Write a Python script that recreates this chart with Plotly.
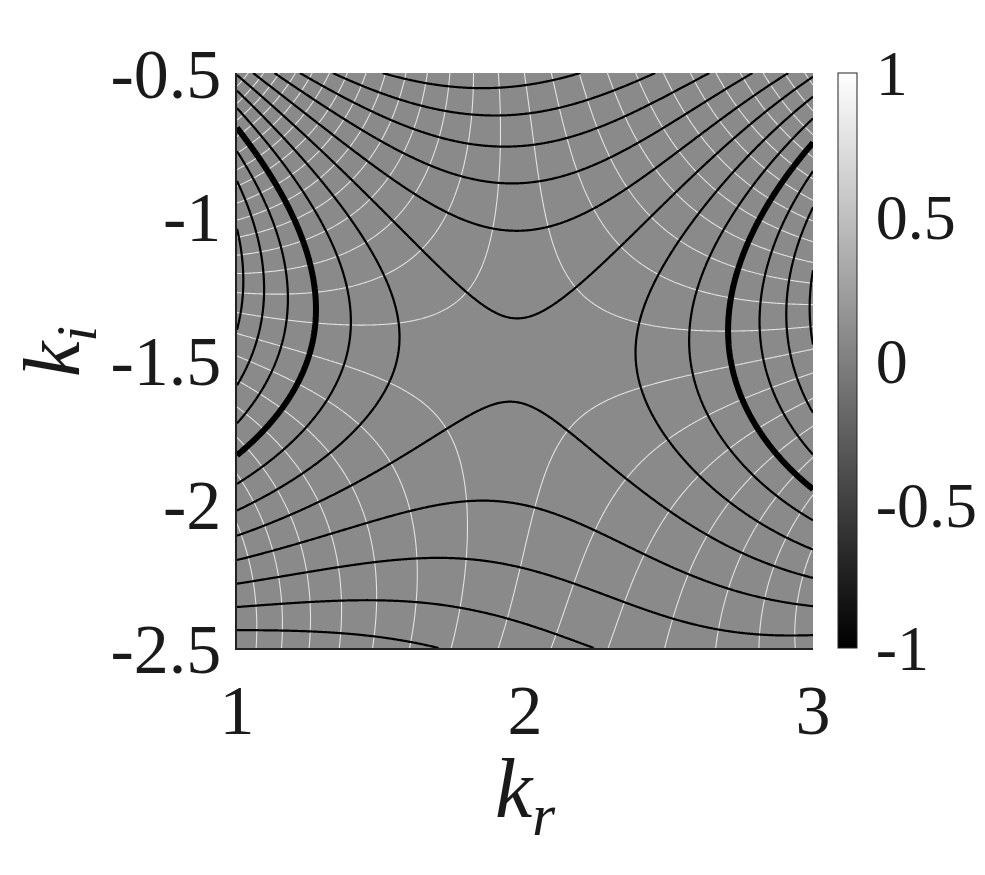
import numpy as np
import plotly.graph_objects as go

# ---------------------------------------------------------------- axes ---
kr_range = [1.0, 3.0]
ki_range = [-2.5, -0.5]
x_ticks = [1, 2, 3]
x_tick_text = ["1", "2", "3"]
y_ticks = [-2.5, -2, -1.5, -1, -0.5]
y_tick_text = ["-2.5", "-2", "-1.5", "-1", "-0.5"]
cbar_ticks = [-1, -0.5, 0, 0.5, 1]
cbar_tick_text = ["-1", "-0.5", "0", "0.5", "1"]

# ------------------------------------------ black lines ---
# (k_r, k_i) points lying on the black contours and the contour index
line_kr = [1.007, 1.086, 1.178, 1.277, 1.398, 1.577,
           2.382, 2.573, 2.712, 2.827, 2.920, 2.995,
           1.97, 1.97, 1.97, 1.97, 1.97, 1.97, 1.97, 1.97, 1.97, 1.97, 1.75,
           1.705, 1.705, 1.705, 1.705, 1.705, 1.705, 1.705, 1.705, 1.705, 1.705, 1.705,
           2.33, 2.33, 2.33, 2.33, 2.33, 2.33, 2.33, 2.33, 2.33,
           1.0, 1.0, 1.0, 1.0, 1.0, 1.0, 1.0, 1.0, 1.0, 1.0, 1.0, 1.0, 1.0, 1.0, 1.0, 1.0,
           3.0, 3.0]
line_ki = [-1.394, -1.394, -1.394, -1.394, -1.394, -1.394,
           -1.46, -1.46, -1.46, -1.46, -1.46, -1.46,
           -0.568, -0.657, -0.762, -0.884, -1.040, -1.330, -1.675, -2.03, -2.253, -2.408, -2.5,
           -0.542, -0.629, -0.722, -0.832, -0.965, -1.156, -1.766, -2.003, -2.182, -2.345, -2.484,
           -0.548, -0.652, -0.768, -0.907, -1.092, -1.916, -2.148, -2.344, -2.495,
           -0.610, -0.681, -0.810, -0.914, -1.032, -1.432, -1.603, -1.679, -1.836, -1.926,
           -2.011, -2.102, -2.186, -2.277, -2.360, -2.445,
           -0.753, -1.931]
line_level = [6, 5, 4, 3, 2, 1,
              1, 2, 3, 4, 5, 6,
              -5, -4, -3, -2, -1, 0, 0, -1, -2, -3, -4,
              -5, -4, -3, -2, -1, 0, 0, -1, -2, -3, -4,
              -4, -3, -2, -1, 0, 0, -1, -2, -3,
              2, 3, 4, 5, 6, 6, 5, 4, 3, 2, 1, 0, -1, -2, -3, -4,
              3, 3]
# consecutive white contours crossing the left edge
white_kr = [1.0, 1.0, 1.0, 1.0, 1.0]
white_ki = [-1.336, -1.406, -1.487, -1.568, -1.655]
thick_level = 3                 # the contour drawn heavy
background_value = 0.08         # shaded field value (grey colour map)

# ---------- analytic phase fitted to the read contour positions ---------
expansion_point = 1.97 - 1.48j
order = 5
ridge = 1e-3


def basis(x, y):
    z = (np.asarray(x, float) + 1j * np.asarray(y, float)) - expansion_point
    cols = [np.ones_like(z.real)]
    for n in range(1, order + 1):
        zn = z ** n
        cols += [zn.real, -zn.imag]
    return np.stack(cols, axis=-1)


M = basis(line_kr, line_ki)
reg = np.sqrt(ridge) * np.eye(M.shape[1])
reg[0, 0] = 0.0
sol, *_ = np.linalg.lstsq(np.vstack([M, reg]),
                          np.concatenate([np.array(line_level, float), np.zeros(M.shape[1])]),
                          rcond=None)
coeffs = [sol[2 * n - 1] + 1j * sol[2 * n] for n in range(1, order + 1)]


def phase(x, y):
    z = (x + 1j * y) - expansion_point
    out = sol[0] + 0j
    for n, cn in enumerate(coeffs, start=1):
        out = out + cn * z ** n
    return out


w_im = phase(np.array(white_kr), np.array(white_ki)).imag
im_shift = -np.angle(np.mean(np.exp(2j * np.pi * w_im))) / (2 * np.pi)

kr = np.linspace(kr_range[0], kr_range[1], 601)
ki = np.linspace(ki_range[0], ki_range[1], 601)
KR, KI = np.meshgrid(kr, ki)
PH = phase(KR, KI) + 1j * im_shift
re_phi, im_phi = PH.real, PH.imag

# ---------------------------------------------------------------- layout -
FONT = "Liberation Serif, Times New Roman, serif"
SH = 8                                  # page body margin
W, H = 985 - SH, 875 - SH
L, R, T, Bm = 237 - SH, 813 - SH, 73 - SH, 648 - SH


def px(xs):          # screen x -> paper x
    return (xs - SH - L) / (R - L)


def py(ys):          # screen y -> paper y
    return (Bm - (ys - SH)) / (Bm - T)


fig = go.Figure()
fig.add_trace(go.Heatmap(
    x=kr_range, y=ki_range, z=[[background_value]], zmin=-1, zmax=1,
    colorscale=[[0, "#000000"], [1, "#ffffff"]], hoverinfo="skip",
    colorbar=dict(x=px(838), xanchor="left", xpad=0, y=1, yanchor="top", ypad=0,
                  len=Bm - T, lenmode="pixels", thickness=19, thicknessmode="pixels",
                  outlinewidth=1, outlinecolor="#222222",
                  tickvals=cbar_ticks, ticktext=cbar_tick_text,
                  ticks="outside", ticklen=6, tickcolor="rgba(0,0,0,0)",
                  tickfont=dict(family=FONT, size=64, color="#1a1a1a")),
))
fig.add_trace(go.Contour(x=kr, y=ki, z=im_phi,
                         contours=dict(start=-80, end=80, size=1, coloring="none"),
                         line=dict(color="#e2e2e2", width=1.1, smoothing=0),
                         showscale=False, hoverinfo="skip"))
fig.add_trace(go.Contour(x=kr, y=ki, z=re_phi,
                         contours=dict(start=-80, end=80, size=1, coloring="none"),
                         line=dict(color="#000000", width=2.2, smoothing=0),
                         showscale=False, hoverinfo="skip"))
fig.add_trace(go.Contour(x=kr, y=ki, z=re_phi,
                         contours=dict(start=thick_level, end=thick_level, size=1, coloring="none"),
                         line=dict(color="#000000", width=6, smoothing=0),
                         showscale=False, hoverinfo="skip"))

fig.update_layout(
    width=W, height=H, autosize=False,
    margin=dict(l=L, r=W - R, t=T, b=H - Bm, autoexpand=False),
    paper_bgcolor="white", plot_bgcolor="white", showlegend=False,
    font=dict(family=FONT, color="#1a1a1a"),
    xaxis=dict(domain=[0, 1], range=kr_range, automargin=False, showgrid=False, zeroline=False,
               showline=True, linecolor="#222222", linewidth=1.5, ticks="",
               tickvals=x_ticks, ticktext=x_tick_text,
               tickfont=dict(family=FONT, size=70, color="#1a1a1a"), ticklabelstandoff=0),
    yaxis=dict(domain=[0, 1], range=ki_range, automargin=False, showgrid=False, zeroline=False,
               showline=True, linecolor="#222222", linewidth=1.5, ticks="",
               tickvals=y_ticks, ticktext=y_tick_text,
               tickfont=dict(family=FONT, size=70, color="#1a1a1a"), ticklabelstandoff=0),
    annotations=[
        dict(text="<i>k</i><sub><i>r</i></sub>", x=px(525), y=py(795), xref="paper", yref="paper",
             xanchor="center", yanchor="middle", showarrow=False,
             font=dict(family=FONT, size=84, color="#1a1a1a")),
        dict(text="<i>k</i><sub><i>i</i></sub>", x=px(58), y=py(352), xref="paper", yref="paper",
             xanchor="center", yanchor="middle", showarrow=False, textangle=-90,
             font=dict(family=FONT, size=80, color="#1a1a1a")),
    ],
)
fig.write_html("out.html")
